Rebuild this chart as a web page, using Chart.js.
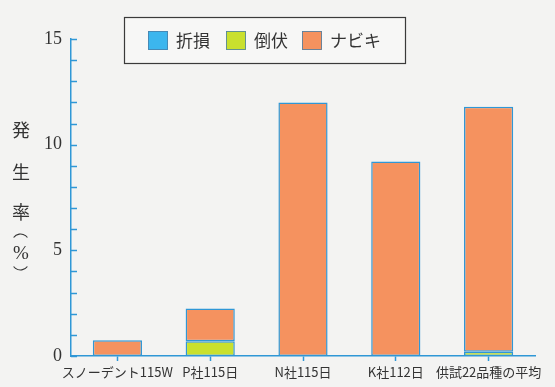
<!DOCTYPE html>
<html>
<head>
<meta charset="utf-8">
<script src="https://cdn.jsdelivr.net/npm/chart.js@4/dist/chart.umd.min.js"></script>
<style>
  html, body { margin: 0; padding: 0; background: #f3f3f2; }
  #wrap { width: 555px; height: 387px; position: relative; }
</style>
</head>
<body>
<div id="wrap"><canvas id="c" width="555" height="387"></canvas></div>
<script>
// 品種ごとの発生率（%）
const categories = ['スノーデント115W', 'P社115日', 'N社115日', 'K社112日', '供試22品種の平均'];
const seriesNames = ['折損', '倒伏', 'ナビキ'];
const breakage = [0, 0, 0, 0, 0];          // 折損
const lodging = [0, 0.7, 0, 0, 0.2];       // 倒伏
const leaning = [0.75, 1.55, 12.0, 9.2, 11.6]; // ナビキ
const yTickLabels = [0, 5, 10, 15];
const yTitleChars = ['発', '生', '率'];
const yTitleUnit = '%';

const AXIS_BLUE = '#2f97d6';
const TEXT = '#333333';
const fills = ['#3cb6ee', '#c9e02e', '#f5925f'];

const serif = '"Liberation Serif", "DejaVu Serif", serif';
const jp = '"Noto Sans CJK JP", "Noto Sans", sans-serif';

// 凡例（枠付き）、縦書きの軸タイトル、内向きの目盛りを描く
const decorations = {
  id: 'decorations',
  afterDraw(chart) {
    const ctx = chart.ctx;
    const y = chart.scales.y;
    const area = chart.chartArea;
    ctx.save();

    // y 軸の目盛り（内向き）
    ctx.strokeStyle = AXIS_BLUE;
    ctx.lineWidth = 1.5;
    for (let v = y.min; v <= y.max; v += 1) {
      const py = Math.round(y.getPixelForValue(v)) + 0.5;
      ctx.beginPath();
      ctx.moveTo(area.left, py);
      ctx.lineTo(area.left + 6, py);
      ctx.stroke();
    }

    // 軸タイトル（縦書き）
    ctx.fillStyle = TEXT;
    ctx.textAlign = 'center';
    ctx.textBaseline = 'middle';
    ctx.font = '18px ' + jp;
    const titleY = [130, 172, 212];
    yTitleChars.forEach((ch, i) => ctx.fillText(ch, 21, titleY[i]));
    ctx.font = '19px ' + serif;
    ctx.fillText(yTitleUnit, 21, 254);
    // 縦書きの括弧
    ctx.strokeStyle = TEXT;
    ctx.lineWidth = 1.2;
    ctx.beginPath();
    ctx.arc(20.5, 242.5, 8.5, Math.PI * 1.2, Math.PI * 1.8);
    ctx.stroke();
    ctx.beginPath();
    ctx.arc(20.5, 261.5, 8.5, Math.PI * 0.2, Math.PI * 0.8);
    ctx.stroke();

    // 凡例
    const box = { x: 124.5, y: 17.5, w: 281, h: 46 };
    ctx.fillStyle = '#f7f7f6';
    ctx.fillRect(box.x, box.y, box.w, box.h);
    ctx.strokeStyle = '#3a3a3a';
    ctx.lineWidth = 1.2;
    ctx.strokeRect(box.x, box.y, box.w, box.h);

    const itemX = [148, 226, 302];
    ctx.font = '17px ' + jp;
    ctx.textAlign = 'left';
    ctx.textBaseline = 'middle';
    chart.data.datasets.forEach((ds, i) => {
      const sx = itemX[i];
      ctx.fillStyle = ds.backgroundColor;
      ctx.fillRect(sx, 31, 20, 19);
      ctx.strokeStyle = '#4a7fa8';
      ctx.lineWidth = 0.8;
      ctx.strokeRect(sx + 0.5, 31.5, 19, 18);
      ctx.fillStyle = TEXT;
      ctx.fillText(ds.label, sx + 28, 41);
    });

    ctx.restore();
  }
};

const values = [breakage, lodging, leaning];

new Chart(document.getElementById('c'), {
  type: 'bar',
  data: {
    labels: categories,
    datasets: seriesNames.map((name, i) => ({
      label: name,
      data: values[i],
      backgroundColor: fills[i],
      borderColor: AXIS_BLUE,
      borderWidth: (c) => (c.raw ? 1.5 : 0),
      borderSkipped: false,
      barPercentage: 0.53,
      categoryPercentage: 1.0
    }))
  },
  options: {
    responsive: false,
    animation: false,
    devicePixelRatio: 1,
    layout: { padding: { left: 0, top: 39, right: 20, bottom: 0 } },
    plugins: {
      legend: { display: false },
      tooltip: { enabled: false }
    },
    scales: {
      x: {
        stacked: true,
        afterFit(scale) { scale.height = 31; },
        grid: {
          display: true,
          offset: false,
          drawOnChartArea: false,
          drawTicks: true,
          tickLength: 5,
          tickWidth: 1.5,
          color: AXIS_BLUE
        },
        border: { display: true, color: AXIS_BLUE, width: 1.5 },
        ticks: {
          color: TEXT,
          font: { family: jp, size: 13 },
          padding: 3,
          maxRotation: 0,
          autoSkip: false
        }
      },
      y: {
        stacked: true,
        min: 0,
        max: 15,
        afterFit(scale) { scale.width = 71; },
        grid: { display: false, drawTicks: false },
        border: { display: true, color: AXIS_BLUE, width: 1.5 },
        ticks: {
          stepSize: 1,
          autoSkip: false,
          color: TEXT,
          font: { family: serif, size: 18 },
          padding: 9,
          callback: (v) => (yTickLabels.includes(v) ? String(v) : '')
        }
      }
    }
  },
  plugins: [decorations]
});
</script>
</body>
</html>
